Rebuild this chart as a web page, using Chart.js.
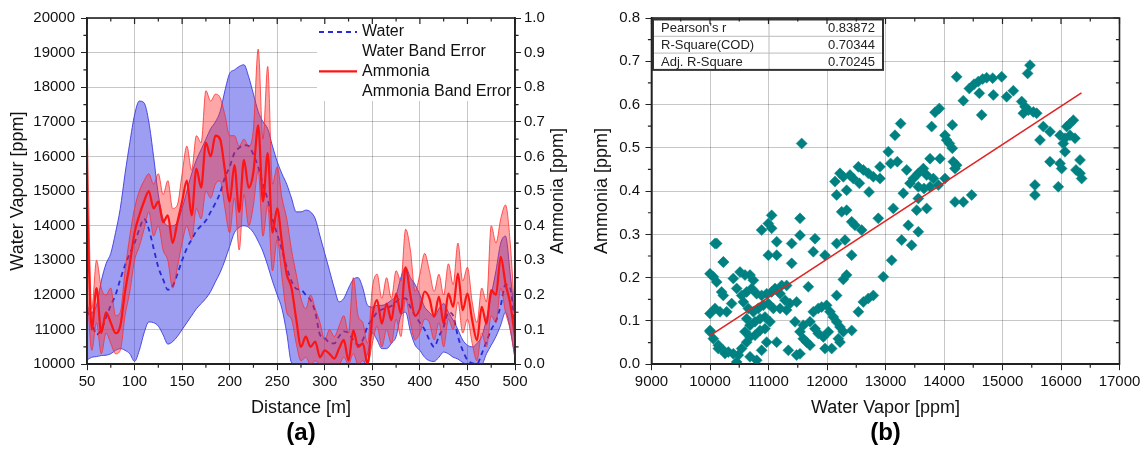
<!DOCTYPE html>
<html>
<head>
<meta charset="utf-8">
<script src="https://cdn.jsdelivr.net/npm/chart.js@4.4.1/dist/chart.umd.min.js"></script>
<style>
  body { margin: 0; background: #fff; width: 1146px; height: 452px; position: relative; overflow: hidden; }
  canvas { position: absolute; top: 0; }
  #chartA { left: 0; }
  #chartB { left: 590px; }
</style>
</head>
<body>
<canvas id="chartA" width="590" height="452"></canvas>
<canvas id="chartB" width="556" height="452"></canvas>
<script>
// ---- (a) distance profile ----
const distance = [
  50, 55, 60, 65, 70, 75, 80, 85, 90, 95,
  100, 105, 110, 115, 120, 125, 130, 135, 140, 145,
  150, 155, 160, 165, 170, 175, 180, 185, 190, 195,
  200, 205, 210, 215, 220, 225, 230, 235, 240, 245,
  250, 255, 260, 265, 270, 275, 280, 285, 290, 295,
  300, 305, 310, 315, 320, 325, 330, 335, 340, 345,
  350, 355, 360, 365, 370, 375, 380, 385, 390, 395,
  400, 405, 410, 415, 420, 425, 430, 435, 440, 445,
  450, 455, 460, 465, 470, 475, 480, 485, 490, 495,
  500
];

const waterMean = [
  11560, 11220, 10850, 11000, 11350, 11700, 12000, 12450, 12860, 13200,
  13500, 13900, 14200, 13900, 13350, 12800, 12450, 12150, 12250, 12600,
  13000, 13350, 13600, 13850, 14000, 14150, 14400, 14650, 14950, 15400,
  15700, 16100, 16250, 16330, 16300, 16050, 15700, 15200, 14750, 14200,
  13750, 13300, 12800, 12400, 12180, 12150, 12000, 11850, 11500, 10850,
  10750, 10620, 10600, 10800, 10950, 10900, 10700, 10550, 10700, 11100,
  11300, 11500, 11580, 11620, 11680, 11800, 11900, 11900, 11650, 11400,
  11200, 11000, 10700, 10500, 10800, 11080, 11500, 11400, 10800, 10400,
  10120, 10030, 10000, 10300, 10650, 11000, 11250, 11700, 12300, 12200,
  11000
];

const waterUpper = [
  11700, 11500, 11700, 12400, 12900, 13200, 13800, 14500, 15500, 16400,
  17200, 17600, 17550, 17000, 16000, 14900, 14200, 14000, 14000, 14100,
  14500, 15000, 15500, 15900, 16200, 16500, 16800, 17000, 17300, 17900,
  18400, 18500, 18600, 18650, 18300, 17800, 17300, 17000, 16800, 16300,
  15850, 15500, 15200, 14800, 14400, 14400, 14450, 14400, 14200, 13700,
  13200, 12700, 12200, 11800, 11900, 12200, 12450, 12500, 12200, 11700,
  11650, 11700, 11700, 11750, 11850, 12000, 12500, 12800, 12500, 12300,
  12000, 11650, 11500, 11370, 11600, 11750, 11500, 11270, 11000, 10700,
  10550, 10500, 10600, 10800, 11300, 12000, 12700, 13500, 13700, 12600,
  11300
];

const waterLower = [
  10120, 10200, 10220, 10250, 10260, 10300, 10400, 10450, 10400, 10300,
  10080, 10400, 10900, 11220, 11200, 11100, 10850, 10580, 10650, 10800,
  11000, 11200, 11400, 11600, 11750, 11900, 12100, 12380, 12650, 13000,
  13400, 13800, 13950, 14000, 13950, 13800, 13550, 13250, 12850, 12400,
  12000, 11600, 10900, 10050, 10000, 10000, 10000, 10000, 10000, 10000,
  10000, 10000, 10000, 10000, 10000, 10000, 10000, 10000, 10000, 10300,
  10900, 10700, 10450, 10450, 10600, 10800, 11400, 11500, 10950, 10550,
  10400, 10200, 10100, 10080, 10200, 10350, 10300, 10200, 10150, 10050,
  10000, 10000, 10000, 10000, 10300, 10550, 10800, 11130, 11500, 11000,
  10160
];

const ammoniaMean = [
  0.48, 0.10, 0.22, 0.09, 0.15, 0.12, 0.09, 0.11, 0.21, 0.29,
  0.38, 0.43, 0.47, 0.50, 0.45, 0.47, 0.41, 0.43, 0.35, 0.41,
  0.47, 0.53, 0.43, 0.565, 0.51, 0.64, 0.60, 0.66, 0.65, 0.56,
  0.47, 0.575, 0.44, 0.59, 0.51, 0.556, 0.69, 0.47, 0.61, 0.38,
  0.45, 0.35, 0.26, 0.22, 0.13, 0.05, 0.08, 0.05, 0.065, 0.02,
  0.04, 0.03, 0.016, 0.045, 0.07, 0.01, 0.098, 0.05, 0.06, 0.0,
  0.137, 0.185, 0.117, 0.175, 0.127, 0.204, 0.146, 0.28, 0.20, 0.14,
  0.16, 0.21, 0.19, 0.137, 0.195, 0.117, 0.204, 0.166, 0.262, 0.156,
  0.204, 0.127, 0.069, 0.166, 0.117, 0.214, 0.20, 0.31, 0.233, 0.175,
  0.079
];

const ammoniaUpper = [
  0.71, 0.16, 0.30, 0.22, 0.20, 0.22, 0.14, 0.15, 0.27, 0.37,
  0.45, 0.50, 0.53, 0.55, 0.52, 0.55, 0.49, 0.53, 0.45, 0.46,
  0.55, 0.63, 0.56, 0.66, 0.64, 0.79, 0.76, 0.78, 0.77, 0.72,
  0.66, 0.66, 0.63, 0.65, 0.63, 0.68, 0.91, 0.65, 0.86, 0.52,
  0.57, 0.48, 0.42, 0.33, 0.26, 0.19, 0.16, 0.20, 0.16, 0.12,
  0.07, 0.10, 0.08, 0.11, 0.14, 0.09, 0.25, 0.14, 0.12, 0.06,
  0.22, 0.26, 0.19, 0.25, 0.19, 0.27, 0.24, 0.39, 0.33, 0.21,
  0.26, 0.32, 0.27, 0.21, 0.26, 0.20, 0.29, 0.23, 0.35, 0.24,
  0.28, 0.18, 0.12, 0.22, 0.18, 0.40, 0.35, 0.42, 0.46, 0.35,
  0.13
];

const ammoniaLower = [
  0.22, 0.04, 0.12, 0.03, 0.09, 0.06, 0.03, 0.04, 0.14, 0.21,
  0.30, 0.34, 0.39, 0.44, 0.37, 0.40, 0.33, 0.30, 0.22, 0.28,
  0.35, 0.40, 0.36, 0.45, 0.42, 0.50, 0.48, 0.52, 0.53, 0.45,
  0.38, 0.48, 0.33, 0.49, 0.40, 0.46, 0.56, 0.37, 0.46, 0.27,
  0.36, 0.25, 0.15, 0.13, 0.06, 0.01, 0.02, 0.0, 0.01, 0.0,
  0.0, 0.0, 0.0, 0.0, 0.02, 0.0, 0.03, 0.0, 0.01, 0.0,
  0.06, 0.11, 0.05, 0.10, 0.06, 0.13, 0.08, 0.19, 0.12, 0.07,
  0.09, 0.13, 0.12, 0.07, 0.12, 0.05, 0.13, 0.10, 0.18, 0.09,
  0.13, 0.06, 0.01, 0.09, 0.05, 0.14, 0.12, 0.22, 0.15, 0.10,
  0.02
];

const legendItems = ['Water', 'Water Band Error', 'Ammonia', 'Ammonia Band Error'];

// ---- (b) correlation ----
// [water vapour ppm, ammonia ppm]
const scatterPts = [
  [15470, 0.691], [15430, 0.672], [14216, 0.664], [14433, 0.637], [14513, 0.647],
  [14587, 0.653], [14661, 0.659], [14729, 0.662], [14832, 0.661], [14986, 0.664],
  [14604, 0.626], [14843, 0.622], [15185, 0.632], [15071, 0.618], [14330, 0.609],
  [14644, 0.576], [15328, 0.607], [15385, 0.595], [15441, 0.587], [15527, 0.583],
  [15584, 0.580], [15356, 0.580], [13920, 0.591], [13846, 0.582], [14142, 0.553],
  [13789, 0.549], [13259, 0.556], [13162, 0.529], [14017, 0.529], [14045, 0.518],
  [14091, 0.510], [14142, 0.499], [16154, 0.556], [16211, 0.564], [16097, 0.549],
  [15983, 0.529], [16068, 0.522], [16154, 0.529], [16239, 0.522], [15698, 0.549],
  [15812, 0.537], [15641, 0.518], [16040, 0.510], [16068, 0.491], [15812, 0.468],
  [15983, 0.464], [16011, 0.452], [16325, 0.472], [16256, 0.449], [16325, 0.441],
  [16353, 0.429], [15954, 0.410], [15555, 0.414], [15555, 0.391], [11567, 0.510],
  [13048, 0.491], [13088, 0.464], [13202, 0.468], [13362, 0.449], [12906, 0.456],
  [12536, 0.456], [12621, 0.449], [12706, 0.441], [12792, 0.433], [12906, 0.429],
  [12393, 0.437], [12450, 0.429], [12222, 0.441], [12137, 0.422], [12279, 0.433],
  [12165, 0.391], [12336, 0.402], [12553, 0.418], [12718, 0.398], [13761, 0.475],
  [13931, 0.475], [13647, 0.452], [13561, 0.441], [13704, 0.437], [13818, 0.429],
  [13476, 0.429], [13419, 0.418], [13561, 0.410], [13658, 0.406], [13761, 0.410],
  [13903, 0.414], [14017, 0.429], [14159, 0.468], [14188, 0.452], [14216, 0.460],
  [13305, 0.395], [13561, 0.383], [13134, 0.360], [13533, 0.356], [13704, 0.360],
  [12877, 0.337], [12422, 0.329], [12479, 0.321], [12593, 0.310], [12336, 0.356],
  [12251, 0.352], [14188, 0.375], [14330, 0.375], [14473, 0.391], [13390, 0.321],
  [13561, 0.306], [13276, 0.287], [13447, 0.275], [12165, 0.279], [12308, 0.287],
  [11795, 0.290], [11766, 0.260], [11966, 0.252], [11538, 0.337], [11538, 0.298],
  [11396, 0.279], [11396, 0.233], [11140, 0.283], [11140, 0.252], [10997, 0.252],
  [10883, 0.310], [10997, 0.325], [11054, 0.344], [11054, 0.314], [10085, 0.279],
  [10228, 0.236], [12422, 0.252], [13105, 0.240], [12963, 0.202], [12792, 0.159],
  [12706, 0.152], [12621, 0.144], [12536, 0.121], [12336, 0.206], [12279, 0.196],
  [12165, 0.159], [11681, 0.179], [10000, 0.209], [10057, 0.202], [10114, 0.190],
  [10199, 0.167], [10228, 0.159], [10000, 0.117], [10085, 0.129], [10171, 0.121],
  [10285, 0.121], [10370, 0.140], [10399, 0.198], [10513, 0.213], [10598, 0.206],
  [10684, 0.206], [10741, 0.194], [10456, 0.175], [10541, 0.159], [10627, 0.167],
  [10712, 0.175], [10798, 0.163], [10883, 0.159], [10969, 0.163], [11054, 0.167],
  [11111, 0.175], [11225, 0.182], [11310, 0.182], [11197, 0.163], [11282, 0.148],
  [11367, 0.140], [11481, 0.144], [10570, 0.144], [10655, 0.129], [10741, 0.121],
  [10826, 0.129], [10912, 0.136], [10997, 0.140], [11083, 0.129], [11197, 0.129],
  [11310, 0.125], [10627, 0.105], [10684, 0.090], [10769, 0.098], [10855, 0.105],
  [10940, 0.109], [11026, 0.098], [10598, 0.075], [10684, 0.063], [10769, 0.067],
  [10855, 0.078], [10940, 0.082], [10627, 0.051], [10000, 0.075], [10057, 0.059],
  [10142, 0.044], [10228, 0.032], [10313, 0.028], [10399, 0.024], [10484, 0.021],
  [10541, 0.036], [10456, 0.005], [10684, 0.017], [10798, 0.009], [10883, 0.032],
  [10969, 0.051], [11140, 0.051], [11339, 0.032], [11481, 0.021], [11538, 0.024],
  [11595, 0.090], [11709, 0.098], [11795, 0.082], [11852, 0.071], [11937, 0.063],
  [12023, 0.075], [11709, 0.044], [11966, 0.036], [12080, 0.036], [11766, 0.121],
  [11852, 0.129], [11909, 0.132], [11994, 0.136], [12051, 0.121], [12108, 0.109],
  [12165, 0.098], [12222, 0.086], [12279, 0.075], [12422, 0.078], [11453, 0.098],
  [11538, 0.075], [11595, 0.059], [11652, 0.051], [12194, 0.059], [12222, 0.051],
  [10114, 0.279], [10228, 0.236], [10142, 0.036], [10256, 0.025], [10000, 0.078]
];

const fitX = [10000, 16350];
const fitY = [0.066, 0.627];

const statLabels = ["Pearson's r", 'R-Square(COD)', 'Adj. R-Square'];
const statValues = ['0.83872', '0.70344', '0.70245'];

const FONT = "'Liberation Sans', Arial, sans-serif";
Chart.defaults.font.family = FONT;
Chart.defaults.color = '#111';
Chart.defaults.animation = false;

const gridCol = 'rgba(0,0,0,0.22)';
const axisCol = '#222';

// small ticks between the labelled ones, and mirror ticks on top / right
function tickMarks(ctx, scale, edge, dir, len, withMajor) {
  const vals = scale.ticks.map(t => t.value);
  ctx.beginPath();
  vals.forEach((v, i) => {
    const list = [];
    if (withMajor) list.push([v, len]);
    if (i < vals.length - 1) list.push([(v + vals[i + 1]) / 2, len * 0.6]);
    list.forEach(([val, l]) => {
      const p = scale.getPixelForValue(val);
      if (scale.isHorizontal()) { ctx.moveTo(p, edge); ctx.lineTo(p, edge + dir * l); }
      else { ctx.moveTo(edge, p); ctx.lineTo(edge + dir * l, p); }
    });
  });
  ctx.stroke();
}

const framePlugin = {
  id: 'frame',
  afterDatasetsDraw(chart) {
    const { ctx, chartArea: a, scales } = chart;
    ctx.save();
    ctx.strokeStyle = axisCol;
    ctx.lineWidth = 1.2;
    tickMarks(ctx, scales.x, a.bottom, 1, 6, false);
    tickMarks(ctx, scales.y, a.left, -1, 6, false);
    tickMarks(ctx, scales.x, a.top, 1, 6, true);
    if (scales.y1) tickMarks(ctx, scales.y1, a.right, 1, 6, false);
    else tickMarks(ctx, scales.y, a.right, -1, 6, true);
    ctx.lineWidth = 1.6;
    ctx.strokeRect(a.left, a.top, a.right - a.left, a.bottom - a.top);
    ctx.restore();
  }
};

const legendBox = {
  id: 'legendBox',
  afterDatasetsDraw(chart) {
    const { ctx, chartArea: a } = chart;
    const x0 = a.right - 198, y0 = a.top + 1;
    ctx.save();
    ctx.fillStyle = '#fff';
    ctx.fillRect(x0, y0, a.right - x0 - 1, 82);
    ctx.font = '16px ' + FONT;
    ctx.textBaseline = 'middle';
    legendItems.forEach((item, i) => {
      const ds = chart.data.datasets.find(d => d.label === item);
      const y = y0 + 13 + i * 19.7;
      if (ds && !ds.fill) {
        ctx.strokeStyle = ds.borderColor;
        ctx.lineWidth = ds.borderWidth;
        ctx.setLineDash(ds.borderDash || []);
        ctx.beginPath(); ctx.moveTo(x0 + 2, y); ctx.lineTo(x0 + 40, y); ctx.stroke();
        ctx.setLineDash([]);
      }
      ctx.fillStyle = '#111';
      ctx.fillText(item, x0 + 45, y);
    });
    ctx.restore();
  }
};

// right axis title reads bottom-to-top like the left one
const sideTitle = {
  id: 'sideTitle',
  afterDraw(chart) {
    const { ctx, chartArea: a } = chart;
    ctx.save();
    ctx.translate(558, (a.top + a.bottom) / 2);
    ctx.rotate(-Math.PI / 2);
    ctx.font = '18px ' + FONT;
    ctx.fillStyle = '#111';
    ctx.textAlign = 'center';
    ctx.textBaseline = 'middle';
    ctx.fillText('Ammonia [ppm]', 0, 0);
    ctx.restore();
  }
};

const statsTable = {
  id: 'statsTable',
  afterDatasetsDraw(chart) {
    const { ctx, chartArea: a } = chart;
    const x0 = a.left + 1.5, y0 = a.top + 1.5, w = 230, rh = 16.8, cx = x0 + 116;
    ctx.save();
    ctx.fillStyle = '#fff';
    ctx.fillRect(x0, y0, w, rh * 3);
    ctx.strokeStyle = '#bbb';
    ctx.lineWidth = 1;
    ctx.beginPath();
    for (let i = 1; i < 3; i++) { ctx.moveTo(x0, y0 + i * rh); ctx.lineTo(x0 + w, y0 + i * rh); }
    ctx.moveTo(cx, y0); ctx.lineTo(cx, y0 + 3 * rh);
    ctx.stroke();
    ctx.strokeStyle = '#333';
    ctx.lineWidth = 2;
    ctx.strokeRect(x0, y0, w, 3 * rh);
    ctx.font = '13px ' + FONT;
    ctx.fillStyle = '#222';
    ctx.textBaseline = 'middle';
    statLabels.forEach((t, i) => {
      const y = y0 + rh * i + rh / 2 + 0.5;
      ctx.textAlign = 'left';
      ctx.fillText(t, x0 + 8, y);
      ctx.textAlign = 'right';
      ctx.fillText(statValues[i], x0 + w - 8, y);
    });
    ctx.restore();
  }
};

const pts = ys => distance.map((d, i) => ({ x: d, y: ys[i] }));

// (a)
new Chart(document.getElementById('chartA'), {
  type: 'line',
  data: {
    datasets: [
      { label: 'Ammonia', data: pts(ammoniaMean), yAxisID: 'y1', borderColor: '#ff1414', borderWidth: 2.2,
        pointRadius: 0, fill: false, cubicInterpolationMode: 'monotone' },
      { label: 'Ammonia Band Error', data: pts(ammoniaUpper), yAxisID: 'y1', borderColor: 'rgba(255,40,40,0.75)',
        borderWidth: 1, backgroundColor: 'rgba(255,45,45,0.42)', fill: '+1', pointRadius: 0, cubicInterpolationMode: 'monotone' },
      { label: 'ammonia lower', data: pts(ammoniaLower), yAxisID: 'y1', borderColor: 'rgba(255,40,40,0.75)',
        borderWidth: 1, fill: false, pointRadius: 0, cubicInterpolationMode: 'monotone' },
      { label: 'Water', data: pts(waterMean), yAxisID: 'y', borderColor: '#2a2ad8', borderDash: [5, 4],
        borderWidth: 1.8, pointRadius: 0, fill: false, cubicInterpolationMode: 'monotone' },
      { label: 'Water Band Error', data: pts(waterUpper), yAxisID: 'y', borderColor: 'rgba(60,60,225,0.9)',
        borderWidth: 1, backgroundColor: 'rgba(60,60,230,0.5)', fill: '+1', pointRadius: 0, cubicInterpolationMode: 'monotone' },
      { label: 'water lower', data: pts(waterLower), yAxisID: 'y', borderColor: 'rgba(60,60,225,0.9)',
        borderWidth: 1, fill: false, pointRadius: 0, cubicInterpolationMode: 'monotone' }
    ]
  },
  options: {
    responsive: false,
    layout: { padding: { top: 18, left: 0, right: 0, bottom: 0 } },
    plugins: {
      legend: { display: false },
      tooltip: { enabled: false },
      title: { display: true, text: '(a)', position: 'bottom', fullSize: false, color: '#000',
        font: { size: 24, weight: 'bold' }, padding: { top: 0, bottom: 4 } }
    },
    scales: {
      x: {
        type: 'linear', min: 50, max: 500,
        ticks: { stepSize: 50, padding: 3, font: { size: 15 }, color: '#111' },
        grid: { color: gridCol, tickColor: axisCol, tickLength: 6 },
        border: { color: axisCol, width: 1.6 },
        title: { display: true, text: 'Distance [m]', font: { size: 18 }, color: '#111', padding: { top: 0, bottom: 0 } },
        afterFit: s => { s.height = 55; }
      },
      y: {
        min: 10000, max: 20000,
        ticks: { stepSize: 1000, padding: 6, font: { size: 15 }, color: '#111', callback: v => String(v) },
        grid: { color: gridCol, tickColor: axisCol, tickLength: 6 },
        border: { color: axisCol, width: 1.6 },
        title: { display: true, text: 'Water Vapour [ppm]', font: { size: 18 }, color: '#111', padding: { top: 7, bottom: 0 } },
        afterFit: s => { s.width = 87; }
      },
      y1: {
        position: 'right', min: 0, max: 1,
        ticks: { stepSize: 0.1, padding: 3, font: { size: 15 }, color: '#111', callback: v => v.toFixed(1) },
        grid: { drawOnChartArea: false, tickColor: axisCol, tickLength: 6 },
        border: { color: axisCol, width: 1.6 },
        afterFit: s => { s.width = 75; }
      }
    }
  },
  plugins: [legendBox, framePlugin, sideTitle]
});

// (b)
new Chart(document.getElementById('chartB'), {
  type: 'scatter',
  data: {
    datasets: [
      { label: 'fit', data: fitX.map((x, i) => ({ x: x, y: fitY[i] })), showLine: true,
        borderColor: '#e02424', borderWidth: 1.6, pointRadius: 0 },
      { label: 'data', data: scatterPts.map(p => ({ x: p[0], y: p[1] })), pointStyle: 'rectRot',
        pointRadius: 5.5, backgroundColor: '#008080', borderColor: '#0a8a8a', borderWidth: 0.5 }
    ]
  },
  options: {
    responsive: false,
    layout: { padding: { top: 18, left: 0, right: 26.5, bottom: 0 } },
    plugins: {
      legend: { display: false },
      tooltip: { enabled: false },
      title: { display: true, text: '(b)', position: 'bottom', fullSize: false, color: '#000',
        font: { size: 24, weight: 'bold' }, padding: { top: 0, bottom: 4 } }
    },
    scales: {
      x: {
        type: 'linear', min: 9000, max: 17000,
        ticks: { stepSize: 1000, padding: 3, font: { size: 15 }, color: '#111', callback: v => String(v) },
        grid: { color: gridCol, tickColor: axisCol, tickLength: 6 },
        border: { color: axisCol, width: 1.6 },
        title: { display: true, text: 'Water Vapor [ppm]', font: { size: 18 }, color: '#111', padding: { top: 0, bottom: 0 } },
        afterFit: s => { s.height = 55; }
      },
      y: {
        min: 0, max: 0.8,
        ticks: { stepSize: 0.1, padding: 5.5, font: { size: 15 }, color: '#111', callback: v => v.toFixed(1) },
        grid: { color: gridCol, tickColor: axisCol, tickLength: 6 },
        border: { color: axisCol, width: 1.6 },
        title: { display: true, text: 'Ammonia [ppm]', font: { size: 18 }, color: '#111', padding: { top: 1, bottom: 0 } },
        afterFit: s => { s.width = 61.5; }
      }
    }
  },
  plugins: [statsTable, framePlugin]
});
</script>
</body>
</html>
